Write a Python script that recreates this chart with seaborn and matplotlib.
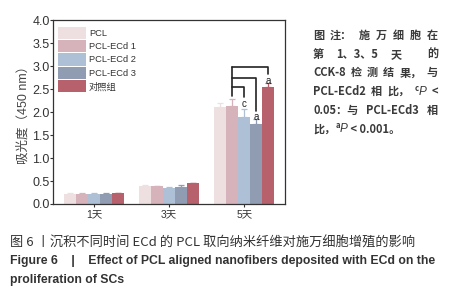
import numpy as np
import pandas as pd
import matplotlib.pyplot as plt
import seaborn as sns

days = ["1天", "3天", "5天"]
groups = ["PCL", "PCL-ECd 1", "PCL-ECd 2", "PCL-ECd 3", "对照组"]
colors = ["#eee0e0", "#d6b3ba", "#aec0d5", "#8f9cb2", "#b6616b"]

# absorbance per group, in order of days
pcl = [0.22, 0.40, 2.10]
ecd1 = [0.22, 0.39, 2.13]
ecd2 = [0.22, 0.35, 1.89]
ecd3 = [0.22, 0.38, 1.74]
ctrl = [0.23, 0.45, 2.55]

pcl_err = [0.01, 0.01, 0.10]
ecd1_err = [0.01, 0.01, 0.16]
ecd2_err = [0.01, 0.01, 0.18]
ecd3_err = [0.01, 0.03, 0.10]
ctrl_err = [0.01, 0.01, 0.09]

values = [pcl, ecd1, ecd2, ecd3, ctrl]
errors = [pcl_err, ecd1_err, ecd2_err, ecd3_err, ctrl_err]

rows = []
for g, vals in zip(groups, values):
    for d, v in zip(days, vals):
        rows.append({"day": d, "group": g, "od": v})
df = pd.DataFrame(rows)

sns.set_style("ticks")
plt.rcParams['font.family'] = ['Liberation Sans', 'Noto Sans CJK SC', 'DejaVu Sans']

fig = plt.figure(figsize=(4.75, 3.0), dpi=100)
ax = fig.add_axes([0.112, 0.32, 0.488, 0.613])

sns.barplot(data=df, x="day", y="od", hue="group", order=days, hue_order=groups,
            palette=dict(zip(groups, colors)), saturation=1, linewidth=0,
            errorbar=None, ax=ax)
bars = list(ax.containers)

# upper error bars, same colour as the bars
for h, cont in enumerate(bars):
    xs = [b.get_x() + b.get_width() / 2 for b in cont]
    hs = [b.get_height() for b in cont]
    ax.errorbar(xs, hs, yerr=[np.zeros(3), errors[h]], fmt="none",
                ecolor=colors[h], elinewidth=0.9, capsize=2, capthick=0.9)

ax.set_ylim(0, 4.0)
ax.set_yticks(np.arange(0, 4.01, 0.5))
ax.set_yticklabels([f"{t:.1f}" for t in np.arange(0, 4.01, 0.5)])
ax.set_xlabel("")
ax.set_ylabel("吸光度（450 nm）", fontsize=9, color="#444444", labelpad=2)
ax.tick_params(axis="y", labelsize=9, length=2, width=0.8, colors="#333333", pad=0.5)
ax.tick_params(axis="x", labelsize=7.5, length=2.5, width=0.8, colors="#333333", pad=1.5)
for s in ax.spines.values():
    s.set_linewidth(0.9)
    s.set_color("#333333")

# significance brackets on day 5
def bar_x(h):
    b = bars[h][2]
    return b.get_x() + b.get_width() / 2

x1 = bar_x(1)
lev = [2.97, 2.75, 2.54]
targets = [(4, "a", 2.82), (3, "a", 2.03), (2, "c", 2.32)]
ax.plot([x1, x1], [2.34, lev[0]], color="#222222", lw=1.2)
for (h, lab, yend), yl in zip(targets, lev):
    xh = bar_x(h)
    ax.plot([x1, xh, xh], [yl, yl, yend], color="#222222", lw=1.2)
    ax.text(xh, yend - 0.03, lab, ha="center", va="top", fontsize=7, color="#222222")

leg = ax.legend(loc="upper left", frameon=False, fontsize=6.7, handlelength=3.0,
                handleheight=1.65, labelspacing=0.12, handletextpad=0.3,
                borderpad=0, borderaxespad=0, bbox_to_anchor=(0.022, 0.965))
for t in leg.get_texts():
    t.set_color("#333333")

# note on the right, justified like the original
renderer = fig.canvas.get_renderer()
note_font = dict(fontsize=8, color="#3a3a3a", fontweight="bold",
                 family=["Noto Sans CJK SC", "DejaVu Sans"])
sup_font = dict(fontsize=5.5, color="#3a3a3a", fontweight="bold",
                family=["Noto Sans CJK SC", "DejaVu Sans"])
ital_font = dict(fontsize=8.5, color="#3a3a3a", style="italic",
                 family=["Liberation Sans"])

def piece(s, kind="n"):
    return (s, kind)

note = [
    [[piece("图")], [piece("注：")], [piece("施")], [piece("万")], [piece("细")],
     [piece("胞")], [piece("在")]],
    [[piece("第")], [piece("1、3、5")], [piece("天")], [piece("")], [piece("的")]],
    [[piece("CCK-8")], [piece("检")], [piece("测")], [piece("结")], [piece("果，")],
     [piece("与")]],
    [[piece("PCL-ECd2")], [piece("相")], [piece("比，")],
     [piece("c", "s"), piece("P", "i")], [piece("<")]],
    [[piece("0.05：与")], [piece("PCL-ECd3")], [piece("相")]],
    None,
]
last = [piece("比，"), piece("a", "s"), piece("P", "i"), piece(" < 0.001。")]

x0, x_end = 313, 438
styles = {"n": (note_font, 0), "s": (sup_font, 4), "i": (ital_font, 0)}

def draw_group(grp, x, y, measure_only=False):
    for s, kind in grp:
        props, dy = styles[kind]
        t = fig.text(x / 475, 1 - (y - dy) / 300, s, va="baseline", ha="left", **props)
        w = t.get_window_extent(renderer).width if s else 0
        if measure_only:
            t.remove()
        x += w
    return x

for i, line in enumerate(note):
    y = 39 + i * 18.7
    if line is None:
        draw_group(last, x0, y)
        continue
    widths = [draw_group(g, 0, y, measure_only=True) for g in line]
    gap = (x_end - x0 - sum(widths)) / (len(line) - 1)
    x = x0
    for g, w in zip(line, widths):
        draw_group(g, x, y)
        x += w + gap

fig.text(10 / 475, 1 - 243 / 300,
         "图 6 丨沉积不同时间 ECd 的 PCL 取向纳米纤维对施万细胞增殖的影响",
         fontsize=9.5, color="#333333", va="center", ha="left",
         family=["Noto Sans CJK SC", "DejaVu Sans"])
fig.text(10 / 475, 1 - 261 / 300,
         "Figure 6    |    Effect of PCL aligned nanofibers deposited with ECd on the",
         fontsize=8.8, fontweight="bold", color="#333333", va="center", ha="left")
fig.text(10 / 475, 1 - 280 / 300, "proliferation of SCs",
         fontsize=8.8, fontweight="bold", color="#333333", va="center", ha="left")

fig.savefig("out.png", dpi=100)
